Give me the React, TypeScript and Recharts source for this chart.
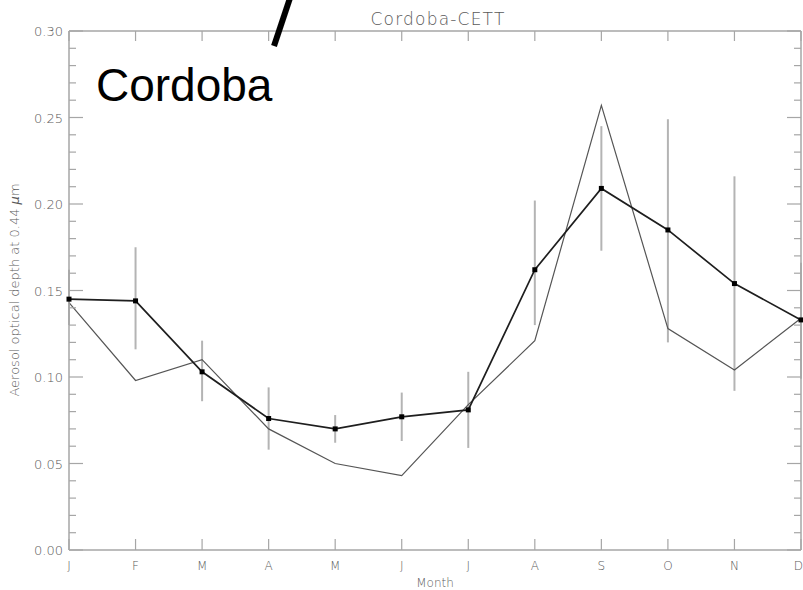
import React from 'react';
import { LineChart, Line, XAxis, YAxis, ErrorBar } from 'recharts';

const months = ['J', 'F', 'M', 'A', 'M', 'J', 'J', 'A', 'S', 'O', 'N', 'D'];
// thick line with markers (monthly mean) and its error bar bounds
const cettMean = [0.145, 0.144, 0.103, 0.076, 0.070, 0.077, 0.081, 0.162, 0.209, 0.185, 0.154, 0.133];
const cettLow = [0.130, 0.116, 0.086, 0.058, 0.062, 0.063, 0.059, 0.130, 0.173, 0.120, 0.092, 0.099];
const cettHigh = [0.162, 0.175, 0.121, 0.094, 0.078, 0.091, 0.103, 0.202, 0.245, 0.249, 0.216, 0.166];
// thin line
const otherMean = [0.143, 0.098, 0.110, 0.070, 0.050, 0.043, 0.084, 0.121, 0.257, 0.128, 0.104, 0.134];
const yMajorTicks = [0, 0.05, 0.1, 0.15, 0.2, 0.25, 0.3];

const yAllTicks: number[] = [];
for (let i = 0; i <= 30; i++) yAllTicks.push(i / 100);

const data = months.map((m, i) => ({
  m: i,
  label: m,
  a: cettMean[i],
  b: otherMean[i],
  err: [cettMean[i] - cettLow[i], cettHigh[i] - cettMean[i]],
}));

const axisColor = '#a6a6a6';
const textColor = '#5a5a5a';
const tickFont = '"DejaVu Sans", sans-serif';

const isMajor = (v: number) => yMajorTicks.some((t) => Math.abs(t - v) < 1e-6);

const BottomTick = (props: any) => {
  const { x, y, payload } = props;
  const last = payload.value === months.length - 1;
  return (
    <g>
      <line x1={x} x2={x} y1={y} y2={y - 11} stroke={axisColor} strokeWidth={1.2} />
      <text
        x={last ? x + 2 : x}
        y={y + 20}
        textAnchor={last ? 'end' : 'middle'}
        fill={textColor}
        fontSize={12}
        fontFamily={tickFont}
        fontWeight={200}
      >
        {months[payload.value]}
      </text>
    </g>
  );
};

const TopTick = (props: any) => {
  const { x, y } = props;
  return <line x1={x} x2={x} y1={y} y2={y + 10} stroke={axisColor} strokeWidth={1.2} />;
};

const LeftTick = (props: any) => {
  const { x, y, payload } = props;
  const major = isMajor(payload.value);
  return (
    <g>
      <line x1={x} x2={x + (major ? 14 : 7)} y1={y} y2={y} stroke={axisColor} strokeWidth={1.2} />
      {major && (
        <text x={x - 6} y={y + 5} textAnchor="end" fill={textColor} fontSize={13} fontFamily={tickFont} fontWeight={200}>
          {payload.value.toFixed(2)}
        </text>
      )}
    </g>
  );
};

const RightTick = (props: any) => {
  const { x, y, payload } = props;
  const major = isMajor(payload.value);
  return <line x1={x} x2={x - (major ? 14 : 7)} y1={y} y2={y} stroke={axisColor} strokeWidth={1.2} />;
};

const SquareDot = (props: any) => {
  const { cx, cy, index } = props;
  return <rect key={`d-${index}`} x={cx - 2.5} y={cy - 2.5} width={5} height={5} fill="#000" />;
};

export default function App() {
  return (
    <div style={{ position: 'absolute', left: 0, top: 0, width: 803, height: 590, background: '#fff' }}>
      <LineChart width={803} height={590} data={data} margin={{ top: 30, right: 0, bottom: 0, left: 0 }}>
        <XAxis
          dataKey="m"
          type="number"
          domain={[0, 11]}
          ticks={months.map((_, i) => i)}
          height={40}
          tickSize={0}
          tickMargin={0}
          tickLine={false}
          stroke={axisColor}
          strokeWidth={1.5}
          tick={<BottomTick />}
          interval={0}
        />
        <XAxis
          xAxisId="top"
          dataKey="m"
          type="number"
          orientation="top"
          domain={[0, 11]}
          ticks={months.map((_, i) => i)}
          height={1}
          tickSize={0}
          tickMargin={0}
          tickLine={false}
          stroke={axisColor}
          strokeWidth={1.5}
          tick={<TopTick />}
          interval={0}
        />
        <YAxis
          type="number"
          domain={[0, 0.3]}
          ticks={yAllTicks}
          width={69}
          tickSize={0}
          tickMargin={0}
          tickLine={false}
          stroke={axisColor}
          strokeWidth={1.5}
          tick={<LeftTick />}
          interval={0}
        />
        <YAxis
          yAxisId="right"
          orientation="right"
          type="number"
          domain={[0, 0.3]}
          ticks={yAllTicks}
          width={2}
          tickSize={0}
          tickMargin={0}
          tickLine={false}
          stroke={axisColor}
          strokeWidth={1.5}
          tick={<RightTick />}
          interval={0}
        />
        {/* invisible series so the top and right axes get a domain */}
        <Line xAxisId="top" yAxisId="right" dataKey="a" stroke="none" dot={false} activeDot={false} isAnimationActive={false} />
        <Line dataKey="a" stroke="none" dot={false} activeDot={false} isAnimationActive={false}>
          <ErrorBar dataKey="err" width={0} stroke="#b4b4b4" strokeWidth={2} direction="y" />
        </Line>
        <Line dataKey="b" stroke="#555" strokeWidth={1.2} dot={false} activeDot={false} isAnimationActive={false} />
        <Line dataKey="a" stroke="#1e1e1e" strokeWidth={1.7} dot={<SquareDot />} activeDot={false} isAnimationActive={false} />
      </LineChart>
      <svg width={803} height={590} style={{ position: 'absolute', left: 0, top: 0, pointerEvents: 'none' }}>
        <text x={438} y={25} textAnchor="middle" fill={textColor} fontSize={17} letterSpacing={1.2} fontFamily={tickFont} fontWeight={200}>
          Cordoba-CETT
        </text>
        <text x={435} y={587} textAnchor="middle" fill={textColor} fontSize={12} fontFamily={tickFont} fontWeight={200}>
          Month
        </text>
        <text
          x={19}
          y={290}
          transform="rotate(-90 19 290)"
          textAnchor="middle"
          fill={textColor}
          fontSize={13}
          fontFamily={tickFont}
          fontWeight={200}
        >
          Aerosol optical depth at 0.44 <tspan fontStyle="italic">μ</tspan>m
        </text>
        <text x={96} y={101} fill="#000" fontSize={46} fontFamily='"Liberation Sans", Arial, sans-serif'>
          Cordoba
        </text>
        <line x1={290} y1={-2} x2={274} y2={46} stroke="#000" strokeWidth={6} />
      </svg>
    </div>
  );
}
